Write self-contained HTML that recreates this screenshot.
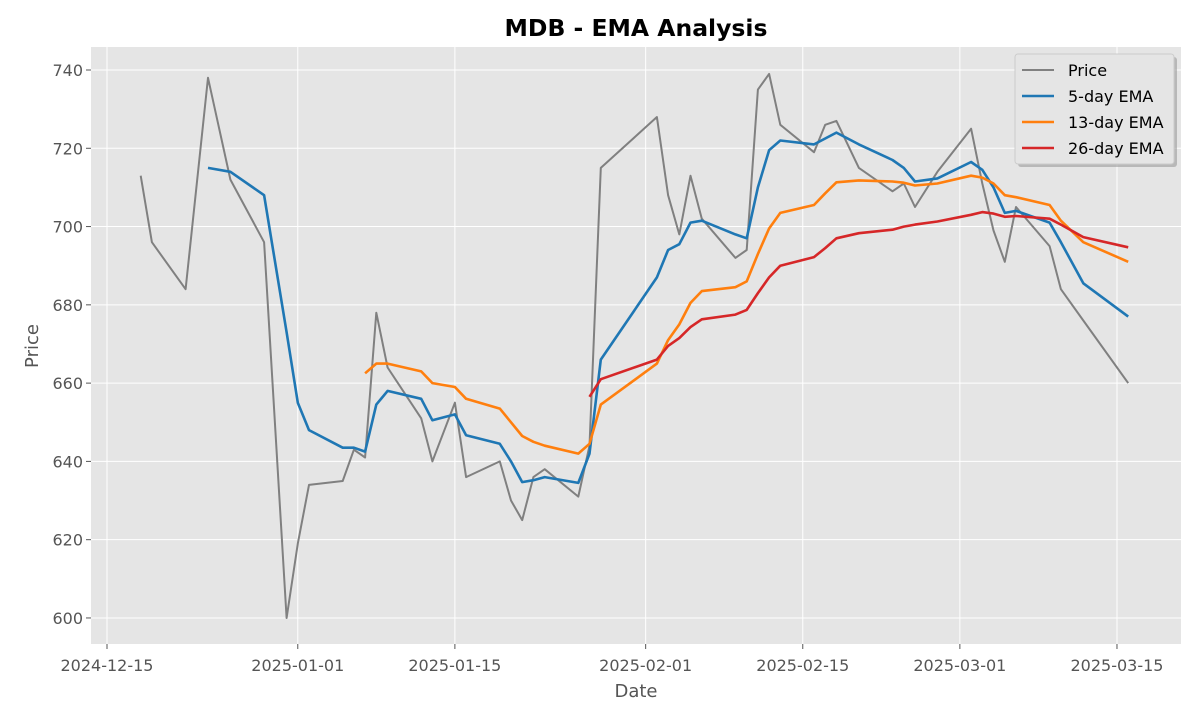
<!DOCTYPE html>
<html><head><meta charset="utf-8"><style>
body{margin:0;background:#fff;}
svg text{font-family:"DejaVu Sans","Liberation Sans",sans-serif;}
</style></head><body>
<svg id="chart" width="1200" height="720" xmlns="http://www.w3.org/2000/svg">
<rect x="0" y="0" width="1200" height="720" fill="#fff"/>
<text x="636" y="36" text-anchor="middle" font-size="23.5" font-weight="bold" fill="#000">MDB - EMA Analysis</text>
<rect x="91" y="47" width="1090" height="597" fill="#e5e5e5"/>
<g id="grid"></g><g id="axes"></g><g id="series"></g>
<text x="38" y="346" text-anchor="middle" font-size="18" fill="#555" transform="rotate(-90 38 346)">Price</text>
<text x="636" y="697" text-anchor="middle" font-size="18" fill="#555">Date</text>
<g>
<rect x="1018" y="57" width="159" height="110" rx="3" fill="#999" opacity="0.6"/>
<rect x="1015" y="54" width="159" height="110" rx="3" fill="#e5e5e5" stroke="#ccc"/>
<g id="legend-items"></g>
</g>
</svg>
<script>
const dates=["2024-12-18","2024-12-19","2024-12-22","2024-12-24","2024-12-26","2024-12-29","2024-12-31","2025-01-01","2025-01-02","2025-01-05","2025-01-06","2025-01-07","2025-01-08","2025-01-09","2025-01-12","2025-01-13","2025-01-15","2025-01-16","2025-01-19","2025-01-20","2025-01-21","2025-01-22","2025-01-23","2025-01-26","2025-01-27","2025-01-28","2025-02-02","2025-02-03","2025-02-04","2025-02-05","2025-02-06","2025-02-09","2025-02-10","2025-02-11","2025-02-12","2025-02-13","2025-02-16","2025-02-17","2025-02-18","2025-02-20","2025-02-23","2025-02-24","2025-02-25","2025-02-27","2025-03-02","2025-03-03","2025-03-04","2025-03-05","2025-03-06","2025-03-09","2025-03-10","2025-03-12","2025-03-16"];
const price=[713,696,684,738,712,696,600,619,634,635,643,641,678,664,651,640,655,636,640,630,625,636,638,631,644,715,728,708,698,713,702,692,694,735,739,726,719,726,727,715,709,711,705,714,725,711,699,691,705,695,684,676,660];
const ema5=[null,null,null,715,714,708,673,655,648,643.5,643.5,642.5,654.5,658,656,650.5,652,646.7,644.5,640,634.7,635.2,636,634.5,642,666,687,694,695.5,701,701.5,698,697,710,719.5,722,721,722.5,724,721,717,715,711.5,712.3,716.5,714.5,710,703.5,704,701,696,685.5,677];
const ema13=[null,null,null,null,null,null,null,null,null,null,null,662.5,665,665,663,660,659,656,653.5,650,646.5,645,644,642,644.5,654.5,665,671,675,680.5,683.5,684.5,686,693,699.5,703.5,705.5,708.5,711.3,711.8,711.5,711.2,710.5,711,713,712.5,711,708,707.5,705.5,701.5,696,691];
const ema26=[null,null,null,null,null,null,null,null,null,null,null,null,null,null,null,null,null,null,null,null,null,null,null,null,656.5,661,666,669.5,671.5,674.3,676.3,677.5,678.7,683,687,690,692.2,694.5,697,698.3,699.2,700,700.5,701.3,703,703.7,703.3,702.5,702.7,702,700.5,697.3,694.7];
const yTicks=[600,620,640,660,680,700,720,740];
const xTicks=["2024-12-15","2025-01-01","2025-01-15","2025-02-01","2025-02-15","2025-03-01","2025-03-15"];
const NS="http://www.w3.org/2000/svg";
const t0=Date.parse("2024-12-15T00:00:00Z");
function xs(d){return 107+(Date.parse(d+"T00:00:00Z")-t0)/86400000*11.222;}
function ys(v){return 70+(740-v)*3.914;}
function mk(tag,attrs,parent){const e=document.createElementNS(NS,tag);for(const k in attrs)e.setAttribute(k,attrs[k]);parent.appendChild(e);return e;}
const grid=document.getElementById('grid'),axes=document.getElementById('axes'),ser=document.getElementById('series');
yTicks.forEach(v=>{
 const l=mk('line',{x1:91,x2:1181,y1:ys(v),y2:ys(v),stroke:'#fff','stroke-width':1},grid);
 
 
 const tk=mk('line',{x1:86,x2:91,y1:ys(v),y2:ys(v),stroke:'#555'},axes);
 
 
 const t=mk('text',{x:83,y:ys(v)+6,'text-anchor':'end','font-size':16,fill:'#555'},axes);
 
 
 t.textContent=v;
});
xTicks.forEach(d=>{
 const x=xs(d);
 const l=mk('line',{x1:x,x2:x,y1:47,y2:644,stroke:'#fff','stroke-width':1},grid);
 
 
 const tk=mk('line',{x1:x,x2:x,y1:644,y2:649,stroke:'#555'},axes);
 
 
 const t=mk('text',{x:x,y:671,'text-anchor':'middle','font-size':16,fill:'#555'},axes);
 
 
 t.textContent=d;
});
function line(vals,color,w,name){
 let p='';vals.forEach((v,i)=>{if(v==null)return;p+=(p?'L':'M')+xs(dates[i]).toFixed(1)+','+ys(v).toFixed(1);});
 const e=mk('path',{d:p,fill:'none',stroke:color,'stroke-width':w,'stroke-linejoin':'round'},ser);
 
 
}
line(price,'#808080',2,'price-line');
line(ema5,'#1f77b4',2.6,'ema5-line');
line(ema13,'#ff7f0e',2.6,'ema13-line');
line(ema26,'#d62728',2.6,'ema26-line');
const li=document.getElementById('legend-items');
[["Price","#808080"],["5-day EMA","#1f77b4"],["13-day EMA","#ff7f0e"],["26-day EMA","#d62728"]].forEach((it,i)=>{
 const y=70+i*26;
 const g=mk('g',{},li);
 
 
 mk('line',{x1:1022,x2:1054,y1:y,y2:y,stroke:it[1],'stroke-width':it[0]=="Price"?2:2.6},g);
 const t=mk('text',{x:1068,y:y+6,'font-size':16,fill:'#000'},g);
 t.textContent=it[0];
});
</script>
</body></html>
